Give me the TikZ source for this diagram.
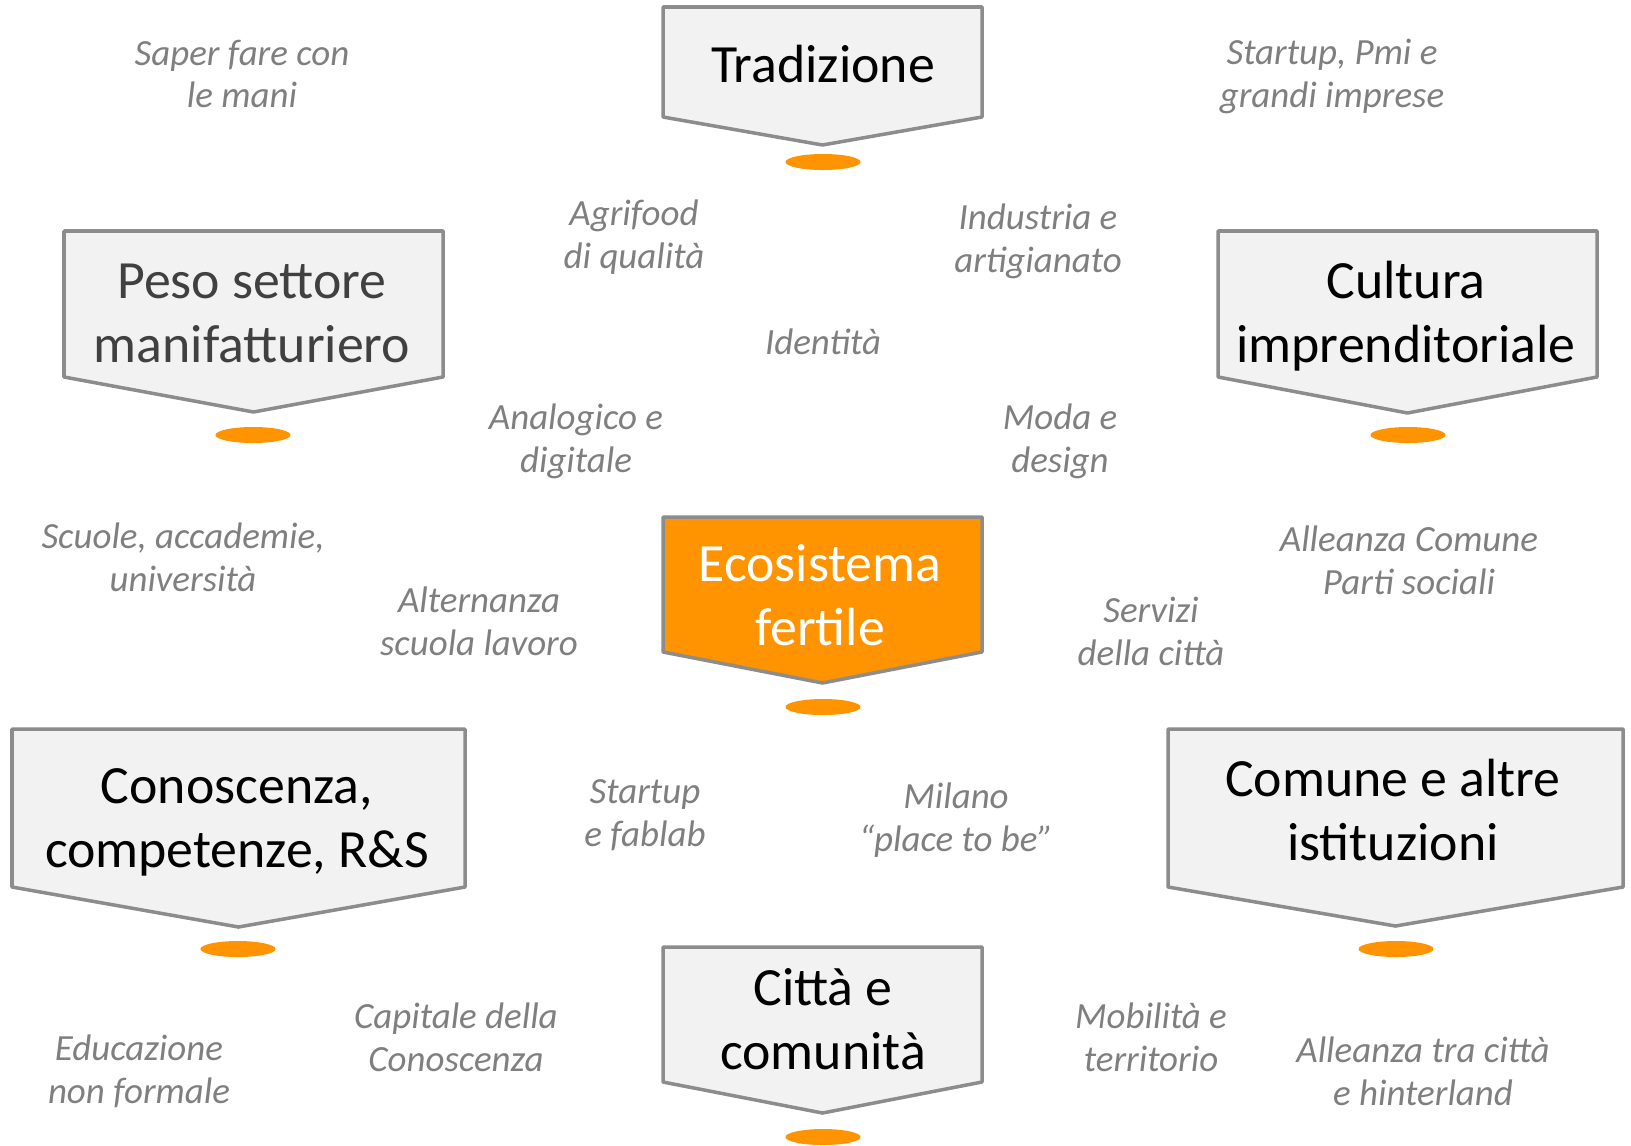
\documentclass[tikz,border=0pt]{standalone}
\usepackage{fontspec}
\setmainfont{Carlito}
\usetikzlibrary{shapes.geometric}
\definecolor{boxFill}{RGB}{242,242,242}
\definecolor{boxLine}{RGB}{140,140,140}
\definecolor{ecoOrange}{RGB}{255,147,0}
\definecolor{labelGray}{RGB}{127,127,127}
\definecolor{pesoGray}{RGB}{64,64,64}

\begin{document}
\begin{tikzpicture}[x=0.01cm, y=-0.01cm,
    chevron/.style={draw=boxLine, fill=boxFill, line width=1pt, line join=round},
    title/.style={align=center, inner sep=0pt, font=\fontsize{15.3}{18.2}\selectfont},
    note/.style={align=center, inner sep=0pt, text=labelGray, font=\fontsize{10.5}{12.2}\selectfont\itshape},
    dot/.style={ellipse, fill=ecoOrange, minimum width=0.75cm, minimum height=0.16cm, inner sep=0pt}]
    \useasboundingbox (0,0) rectangle (1631,1145);

    % pillars
    \draw[chevron] (663,7) -- (982,7) -- (982,117) -- (822.5,145) -- (663,117) -- cycle;
    \node[title, anchor=base] (trad) at (823,82) {Tradizione};
    \node[dot] (tradDot) at (823,162) {};

    \draw[chevron] (64,231) -- (443,231) -- (443,377) -- (253.5,412) -- (64,377) -- cycle;
    \node[title, text=pesoGray] (peso) at (252,313.5) {Peso settore\\manifatturiero};
    \node[dot] (pesoDot) at (253,435) {};

    \draw[chevron] (1218,231) -- (1597,231) -- (1597,377) -- (1407.5,413) -- (1218,377) -- cycle;
    \node[title] (cult) at (1406,316) {Cultura\\imprenditoriale};
    \node[dot] (cultDot) at (1408,435) {};

    \draw[chevron, fill=ecoOrange] (663,517) -- (982,517) -- (982,652) -- (822.5,683) -- (663,652) -- cycle;
    \node[title, text=white] (eco) at (820,595) {Ecosistema\\fertile};
    \node[dot] (ecoDot) at (823,707) {};

    \draw[chevron] (12,729) -- (465,729) -- (465,887) -- (238.5,927) -- (12,887) -- cycle;
    \node[title] (cono) at (237,822) {Conoscenza,\\competenze, R\&S};
    \node[dot] (conoDot) at (238,949) {};

    \draw[chevron] (1168,729) -- (1623,729) -- (1623,887) -- (1395.5,926) -- (1168,887) -- cycle;
    \node[title] (comu) at (1393,810) {Comune e altre\\istituzioni};
    \node[dot] (comuDot) at (1396,949) {};

    \draw[chevron] (663,947) -- (982,947) -- (982,1082) -- (822.5,1113) -- (663,1082) -- cycle;
    \node[title] (citta) at (823,1019) {Città e\\comunità};
    \node[dot] (cittaDot) at (823,1137) {};

    % keywords
    \node[note] (saper) at (242,74) {Saper fare con\\le mani};
    \node[note] (impr) at (1332,76.5) {Startup, Pmi e\\grandi imprese};
    \node[note] (agri) at (634,237) {Agrifood\\di qualità};
    \node[note] (indu) at (1038,241) {Industria e\\artigianato};
    \node[note] (iden) at (823,342) {Identità};
    \node[note] (anal) at (576,441.5) {Analogico e\\digitale};
    \node[note] (moda) at (1060,441.5) {Moda e\\design};
    \node[note] (scuo) at (183,557) {Scuole, accademie,\\università};
    \node[note] (alle) at (1409,560) {Alleanza Comune\\Parti sociali};
    \node[note] (alte) at (479,621.5) {Alternanza\\scuola lavoro};
    \node[note] (serv) at (1151,631.5) {Servizi\\della città};
    \node[note] (star) at (645,815) {Startup\\e fablab};
    \node[note] (mila) at (956,820) {Milano\\“place to be”};
    \node[note] (capi) at (456,1037) {Capitale della\\Conoscenza};
    \node[note] (mobi) at (1151,1037) {Mobilità e\\territorio};
    \node[note] (educ) at (139,1071) {Educazione\\non formale};
    \node[note] (hint) at (1423,1071) {Alleanza tra città\\e hinterland};
\end{tikzpicture}
\end{document}
